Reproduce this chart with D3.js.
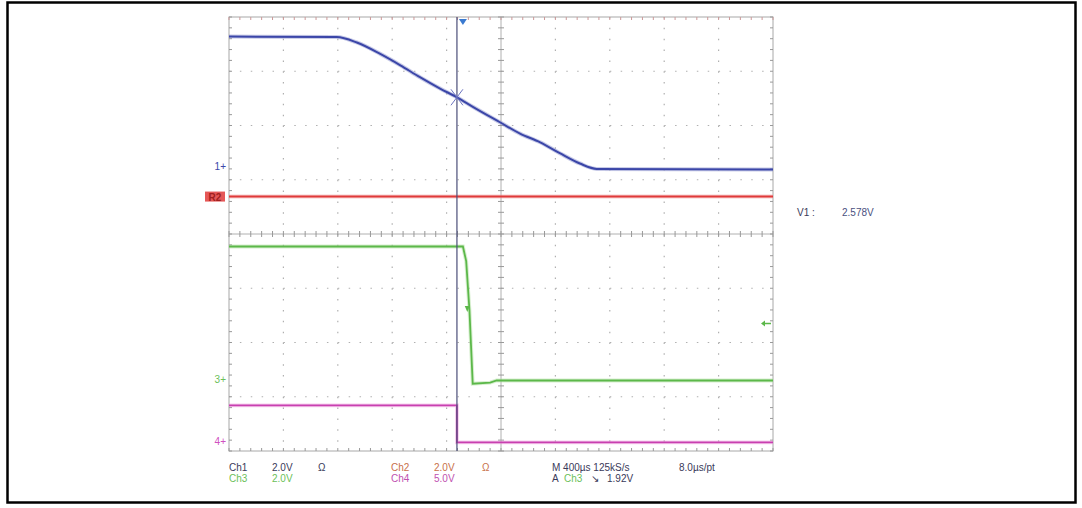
<!DOCTYPE html>
<html><head><meta charset="utf-8">
<script src="https://cdn.jsdelivr.net/npm/d3@7"></script>
<style>body{margin:0;background:#fff;}svg{display:block;font-family:"Liberation Sans",Arial,sans-serif;}</style>
</head><body><svg id="c" width="1082" height="508"></svg>
<script>
// time in divisions (0..10), amplitude in screen divisions (-4..4)
const ch1T = [0, 1.98, 2.35, 2.78, 3.15, 3.51, 3.88, 4.19, 4.49, 4.98, 5.35, 5.72, 6.08, 6.45, 6.76, 10];
const ch1V = [3.64, 3.63, 3.53, 3.32, 3.11, 2.89, 2.68, 2.52, 2.34, 2.06, 1.85, 1.69, 1.49, 1.30, 1.20, 1.19];
const ch2T = [0, 10];
const ch2V = [0.69, 0.69];
const ch3T = [0, 4.30, 4.36, 4.42, 4.48, 4.80, 4.92, 10];
const ch3V = [-0.23, -0.23, -0.50, -1.40, -2.76, -2.74, -2.70, -2.70];
const ch4T = [0, 4.19, 4.19, 10];
const ch4V = [-3.16, -3.16, -3.84, -3.84];
const markers = [{ch:"1", v:1.26, c:"#3b46a8"}, {ch:"2", v:0.69, c:"#e03a3a"}, {ch:"3", v:-2.68, c:"#6cbf5a"}, {ch:"4", v:-3.82, c:"#d050c0"}];
const cursorT = 4.19, cursorV = 2.52, triggerT = 4.30, trigLevel = -1.65;
const infoRow1 = [["Ch1","#3a3a5a",229],["2.0V","#3a3a5a",272],["Ω","#3a3a5a",318],["Ch2","#c8704a",391],["2.0V","#c8704a",434],["Ω","#c8704a",482],["M 400µs 125kS/s","#3a3a5a",552],["8.0µs/pt","#3a3a5a",679]];
const infoRow2 = [["Ch3","#6cbf5a",229],["2.0V","#6cbf5a",272],["Ch4","#c050b0",391],["5.0V","#c050b0",434],["A","#3a3a5a",552],["Ch3","#6cbf5a",564],["↘","#3a3a5a",591],["1.92V","#3a3a5a",607]];

const svg = d3.select("#c");
const x = d3.scaleLinear().domain([0,10]).range([229,773]);
const y = d3.scaleLinear().domain([-4,4]).range([451,17]);

svg.append("rect").attr("x",7.5).attr("y",2.5).attr("width",1068).attr("height",500).attr("fill","none").attr("stroke","#000").attr("stroke-width",2.5);

const g = svg.append("g");
const gridC = "#b0b0b0";
for (let i=1;i<10;i++){ if(i===5) continue;
  g.append("line").attr("x1",x(i)).attr("x2",x(i)).attr("y1",y(4)).attr("y2",y(-4)).attr("stroke",gridC).attr("stroke-width",1.2).attr("stroke-dasharray","1.5,9.35");
}
for (let j=-3;j<=3;j++){ if(j===0) continue;
  g.append("line").attr("y1",y(j)).attr("y2",y(j)).attr("x1",x(0)).attr("x2",x(10)).attr("stroke",gridC).attr("stroke-width",1.2).attr("stroke-dasharray","1.5,9.38");
}
g.append("rect").attr("x",x(0)).attr("y",y(4)).attr("width",x(10)-x(0)).attr("height",y(-4)-y(4)).attr("fill","none").attr("stroke","#a8a8a8").attr("stroke-width",1);
g.append("line").attr("x1",x(5)).attr("x2",x(5)).attr("y1",y(4)).attr("y2",y(-4)).attr("stroke",gridC).attr("stroke-width",1);
g.append("line").attr("y1",y(0)).attr("y2",y(0)).attr("x1",x(0)).attr("x2",x(10)).attr("stroke",gridC).attr("stroke-width",1);
const hMinor = d3.range(0,50.001,1).map(k=>k/5);
const vMinor = d3.range(-20,20.001,1).map(k=>k/5);
hMinor.forEach(t=>{
  g.append("line").attr("x1",x(t)).attr("x2",x(t)).attr("y1",y(0)-3).attr("y2",y(0)+3).attr("stroke","#999");
  g.append("line").attr("x1",x(t)).attr("x2",x(t)).attr("y1",y(4)).attr("y2",y(4)+3).attr("stroke","#c99");
  g.append("line").attr("x1",x(t)).attr("x2",x(t)).attr("y1",y(-4)-3).attr("y2",y(-4)).attr("stroke","#999");
});
vMinor.forEach(v=>{
  g.append("line").attr("y1",y(v)).attr("y2",y(v)).attr("x1",x(5)-3).attr("x2",x(5)+3).attr("stroke","#999");
  g.append("line").attr("y1",y(v)).attr("y2",y(v)).attr("x1",x(0)).attr("x2",x(0)+3).attr("stroke","#999");
  g.append("line").attr("y1",y(v)).attr("y2",y(v)).attr("x1",x(10)-3).attr("x2",x(10)).attr("stroke","#999");
});

const line = d3.line().x(d=>x(d[0])).y(d=>y(d[1]));
const smooth = d3.line().x(d=>x(d[0])).y(d=>y(d[1])).curve(d3.curveMonotoneX);
function trace(T,V,color,w,halo,gen){
  gen = gen || line;
  const pts = T.map((t,i)=>[t,V[i]]);
  if(halo) svg.append("path").attr("d",gen(pts)).attr("fill","none").attr("stroke",halo).attr("stroke-width",w+2).attr("opacity",0.5);
  svg.append("path").attr("d",gen(pts)).attr("fill","none").attr("stroke",color).attr("stroke-width",w);
}
trace(ch2T,ch2V,"#e03a3a",2,"#f0a0a0");
trace(ch3T,ch3V,"#5cb84a",1.8,"#b0e0a0");
trace(ch4T,ch4V,"#c840b0",1.8,"#f0a0e0");
svg.append("line").attr("x1",x(cursorT)).attr("x2",x(cursorT)).attr("y1",y(4)).attr("y2",y(-4)).attr("stroke","#4a4e78").attr("stroke-width",1.2);
trace(ch1T,ch1V,"#3b46a8",2,"#8f95d0",smooth);
const cx=x(cursorT), cy=y(cursorV);
svg.append("path").attr("d",`M${cx-6},${cy+8}L${cx+6},${cy-8}M${cx-6},${cy-8}L${cx+6},${cy+8}`).attr("stroke","#6c74c0").attr("stroke-width",1);
const tx=x(triggerT);
svg.append("path").attr("d",`M${tx-4},${y(4)+2}L${tx+4},${y(4)+2}L${tx},${y(4)+8}Z`).attr("fill","#3a7ad0");
svg.append("path").attr("d",`M${x(4.38)-2.5},${y(-1.4)-4}L${x(4.38)+2.5},${y(-1.4)-4}L${x(4.38)},${y(-1.4)+2}Z`).attr("fill","#5cb84a");
// trigger level arrow at right edge
const ly=y(trigLevel), lx=x(10)-12;
svg.append("path").attr("d",`M${lx},${ly}L${lx+4},${ly-3}L${lx+4},${ly+3}Z`).attr("fill","#5cb84a");
svg.append("line").attr("x1",lx+3).attr("x2",lx+10).attr("y1",ly).attr("y2",ly).attr("stroke","#5cb84a").attr("stroke-width",1.5);
markers.forEach(m=>{
  if(m.ch==="2"){
    svg.append("rect").attr("x",205).attr("y",y(m.v)-5).attr("width",20).attr("height",10).attr("fill","#e03a3a").attr("opacity",0.85);
    svg.append("text").attr("x",215).attr("y",y(m.v)+4).attr("text-anchor","middle").attr("font-size",10).attr("font-weight","bold").attr("fill","#a02020").text("R2");
  } else {
    svg.append("text").attr("x",x(0)-3).attr("y",y(m.v)+4).attr("text-anchor","end").attr("font-size",10).attr("fill",m.c).text(m.ch+"+");
  }
});
infoRow1.forEach(d=>svg.append("text").attr("x",d[2]).attr("y",471).attr("font-size",10).attr("fill",d[1]).text(d[0]));
infoRow2.forEach(d=>svg.append("text").attr("x",d[2]).attr("y",482).attr("font-size",10).attr("fill",d[1]).text(d[0]));
svg.append("text").attr("x",797).attr("y",216).attr("font-size",10).attr("fill","#3a3a5a").text("V1 :");
svg.append("text").attr("x",842).attr("y",216).attr("font-size",10).attr("fill","#4a5080").text("2.578V");
</script></body></html>
